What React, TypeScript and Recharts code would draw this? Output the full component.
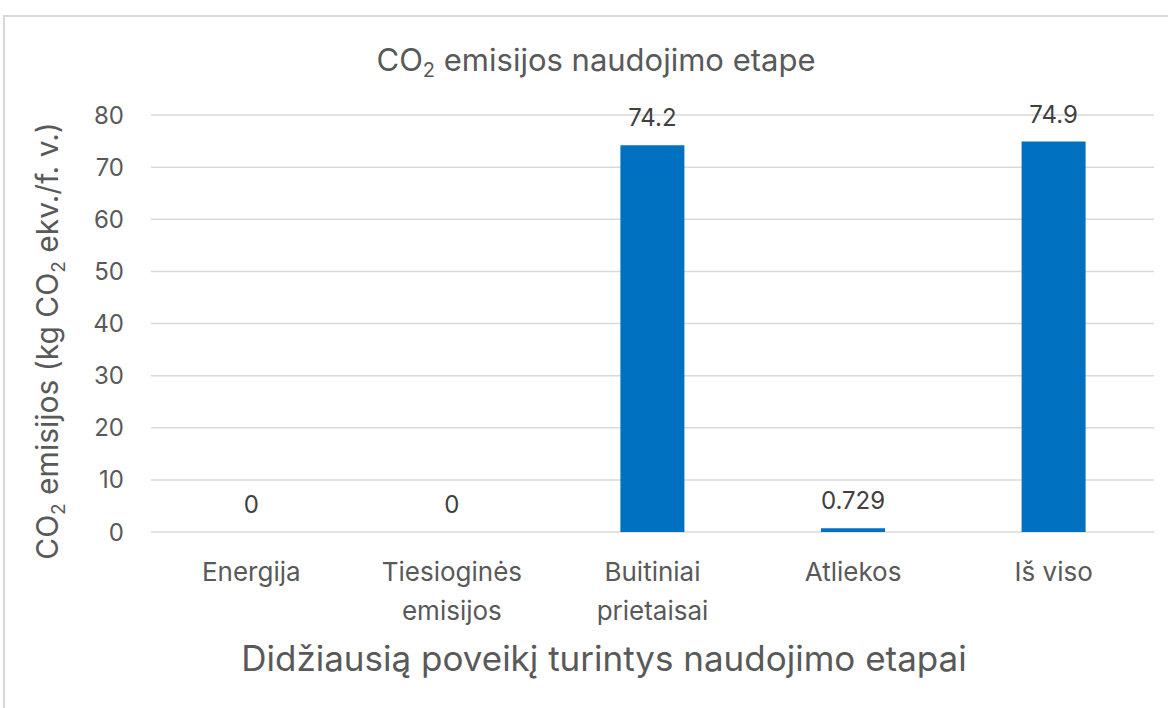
import React from 'react';
import { BarChart, Bar, Cell, XAxis, YAxis, CartesianGrid, LabelList, Label } from 'recharts';

const categories = ['Energija', 'Tiesioginės\nemisijos', 'Buitiniai\nprietaisai', 'Atliekos', 'Iš viso'];
const emissions = [0, 0, 74.2, 0.729, 74.9];
const yTicks = [0, 10, 20, 30, 40, 50, 60, 70, 80];

const data = categories.map((name, i) => ({ name, value: emissions[i] }));

const TEXT = '#595959';
const FONT = 'Inter, "Open Sans", sans-serif';

const CategoryTick = (props: any) => {
    const { x, y, payload } = props;
    const lines = String(payload.value).split('\n');
    return (
        <text x={x} y={y} textAnchor='middle' fill={TEXT} fontSize={26} fontFamily={FONT}>
            {lines.map((l, i) => (
                <tspan key={i} x={x} dy={i === 0 ? 41 : 39}>{l}</tspan>
            ))}
        </text>
    );
};

const YTitle = () => (
    <text transform='translate(58, 341) rotate(-90)' textAnchor='middle' fill={TEXT} fontSize={30} fontFamily={FONT}>
        CO<tspan fontSize={19} dy={7}>2</tspan>
        <tspan dy={-7}> emisijos (kg CO</tspan>
        <tspan fontSize={19} dy={7}>2</tspan>
        <tspan dy={-7}> ekv./f. v.)</tspan>
    </text>
);

const XTitle = () => (
    <text x={604} y={671} textAnchor='middle' fill={TEXT} fontSize={35} fontFamily={FONT}>
        Didžiausią poveikį turintys naudojimo etapai
    </text>
);

const ValueLabel = (props: any) => {
    const { x, y, width, height, value } = props;
    const top = Math.min(Number(y), Number(y) + Number(height));
    return (
        <text x={Number(x) + Number(width) / 2} y={top - 19} textAnchor='middle' fill='#404040' fontSize={24} fontFamily={FONT}>
            {value}
        </text>
    );
};

const App: React.FC = () => {
    return (
        <div style={{ position: 'absolute', left: 0, top: 0, width: 1168, height: 708, overflow: 'hidden', background: '#fff' }}>
            <div style={{ position: 'absolute', left: 3, top: 15, width: 1200, height: 720, border: '2px solid #d9d9d9', boxSizing: 'border-box' }} />
            <svg style={{ position: 'absolute', left: 0, top: 0 }} width={1168} height={100}>
                <text x={596} y={71} textAnchor='middle' fill={TEXT} fontSize={31} fontFamily={FONT}>
                    CO<tspan fontSize={20} dy={6}>2</tspan>
                    <tspan dy={-6}> emisijos naudojimo etape</tspan>
                </text>
            </svg>
            <div style={{ position: 'absolute', left: 0, top: 0 }}>
                <BarChart width={1168} height={708} data={data} margin={{ top: 115, right: 14, bottom: 0, left: 0 }} barCategoryGap='34%'>
                    <CartesianGrid vertical={false} stroke='#d9d9d9' strokeWidth={1.5} />
                    <XAxis dataKey='name' height={176} axisLine={false} tickLine={false} tick={<CategoryTick />} interval={0}>
                        <Label content={<XTitle />} />
                    </XAxis>
                    <YAxis width={151} domain={[0, 80]} ticks={yTicks} axisLine={false} tickLine={false} tickMargin={21}
                        tick={{ fill: TEXT, fontSize: 24, fontFamily: FONT }}>
                        <Label content={<YTitle />} />
                    </YAxis>
                    <Bar dataKey='value' fill='#0070C0' minPointSize={0.01} isAnimationActive={false}>
                        {data.map((d, i) => (
                            <Cell key={i} fill={d.value === 0 ? 'transparent' : '#0070C0'} />
                        ))}
                        <LabelList dataKey='value' content={<ValueLabel />} />
                    </Bar>
                </BarChart>
            </div>
        </div>
    );
};

export default App;
